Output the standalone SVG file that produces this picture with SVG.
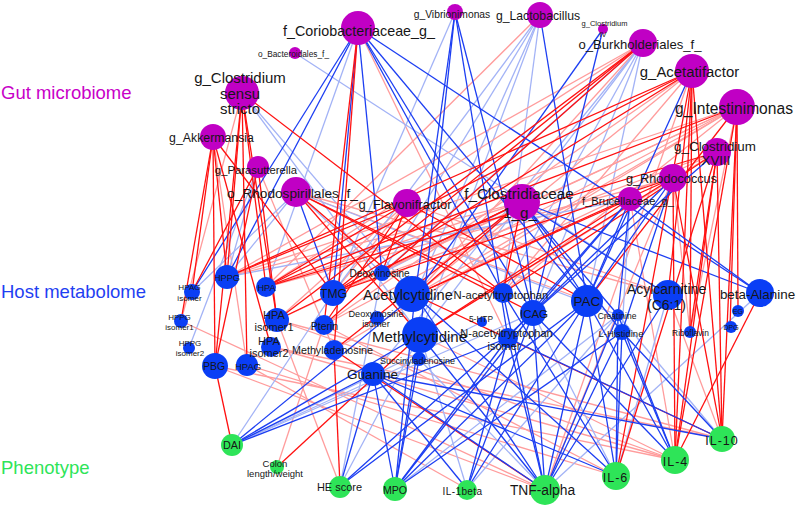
<svg xmlns="http://www.w3.org/2000/svg" width="797" height="507" viewBox="0 0 797 507">
<style>
line{stroke-width:1.3;fill:none}
.R{stroke:#ff1010}
.r{stroke:#ff9c9c}
.B{stroke:#1c3ef2}
.b{stroke:#a3b3f6}
.m{fill:#c000c4}
.h{fill:#0a3ef5}
.p{fill:#2ee458}
text{font-family:"Liberation Sans",Arial,sans-serif;fill:#161616;text-anchor:middle}
.cat{font-size:18.5px;text-anchor:start}
</style>
<rect width="797" height="507" fill="#fff"/>
<g id="connectors">
<line class="b" x1="358" y1="28" x2="266" y2="287"/>
<line class="r" x1="358" y1="28" x2="508" y2="338"/>
<line class="b" x1="295" y1="53" x2="668" y2="295"/>
<line class="b" x1="242" y1="93" x2="415" y2="295"/>
<line class="b" x1="242" y1="93" x2="420" y2="335"/>
<line class="r" x1="242" y1="93" x2="181" y2="321"/>
<line class="r" x1="213" y1="137" x2="247" y2="365"/>
<line class="b" x1="258" y1="167" x2="227" y2="277"/>
<line class="r" x1="258" y1="167" x2="334" y2="350"/>
<line class="b" x1="258" y1="167" x2="189" y2="348"/>
<line class="r" x1="296" y1="192" x2="587" y2="301"/>
<line class="b" x1="296" y1="192" x2="227" y2="277"/>
<line class="b" x1="296" y1="192" x2="618" y2="315"/>
<line class="r" x1="296" y1="192" x2="668" y2="295"/>
<line class="b" x1="296" y1="192" x2="382" y2="273"/>
<line class="b" x1="296" y1="192" x2="192" y2="292"/>
<line class="r" x1="407" y1="203" x2="277" y2="320"/>
<line class="r" x1="407" y1="203" x2="333" y2="293"/>
<line class="r" x1="407" y1="203" x2="668" y2="295"/>
<line class="r" x1="522" y1="202" x2="266" y2="287"/>
<line class="r" x1="522" y1="202" x2="227" y2="277"/>
<line class="b" x1="522" y1="202" x2="382" y2="273"/>
<line class="b" x1="455" y1="12" x2="333" y2="293"/>
<line class="b" x1="540" y1="15" x2="333" y2="293"/>
<line class="b" x1="540" y1="15" x2="382" y2="273"/>
<line class="b" x1="540" y1="15" x2="415" y2="295"/>
<line class="b" x1="540" y1="15" x2="420" y2="335"/>
<line class="r" x1="540" y1="15" x2="266" y2="287"/>
<line class="b" x1="540" y1="15" x2="503" y2="293"/>
<line class="r" x1="643" y1="43" x2="266" y2="287"/>
<line class="r" x1="643" y1="43" x2="415" y2="295"/>
<line class="b" x1="643" y1="43" x2="420" y2="335"/>
<line class="b" x1="643" y1="43" x2="382" y2="273"/>
<line class="b" x1="643" y1="43" x2="533" y2="313"/>
<line class="b" x1="643" y1="43" x2="503" y2="293"/>
<line class="b" x1="643" y1="43" x2="587" y2="301"/>
<line class="r" x1="643" y1="43" x2="227" y2="277"/>
<line class="b" x1="643" y1="43" x2="373" y2="374"/>
<line class="r" x1="692" y1="71" x2="324" y2="325"/>
<line class="r" x1="692" y1="71" x2="503" y2="293"/>
<line class="r" x1="692" y1="71" x2="415" y2="295"/>
<line class="r" x1="692" y1="71" x2="545" y2="490"/>
<line class="r" x1="737" y1="107" x2="227" y2="277"/>
<line class="r" x1="737" y1="107" x2="333" y2="293"/>
<line class="r" x1="737" y1="107" x2="415" y2="295"/>
<line class="r" x1="737" y1="107" x2="277" y2="320"/>
<line class="r" x1="737" y1="107" x2="324" y2="325"/>
<line class="r" x1="737" y1="107" x2="503" y2="293"/>
<line class="r" x1="737" y1="107" x2="334" y2="350"/>
<line class="r" x1="737" y1="107" x2="690" y2="332"/>
<line class="r" x1="717" y1="152" x2="415" y2="295"/>
<line class="r" x1="717" y1="152" x2="333" y2="293"/>
<line class="r" x1="717" y1="152" x2="420" y2="335"/>
<line class="r" x1="673" y1="178" x2="545" y2="490"/>
<line class="r" x1="673" y1="178" x2="266" y2="287"/>
<line class="r" x1="673" y1="178" x2="690" y2="332"/>
<line class="b" x1="630" y1="199" x2="622" y2="332"/>
<line class="r" x1="630" y1="199" x2="675" y2="460"/>
<line class="b" x1="630" y1="199" x2="227" y2="277"/>
<line class="r" x1="215" y1="366" x2="675" y2="460"/>
<line class="r" x1="215" y1="366" x2="545" y2="490"/>
<line class="r" x1="247" y1="365" x2="616" y2="476"/>
<line class="r" x1="247" y1="365" x2="467" y2="489"/>
<line class="r" x1="181" y1="321" x2="545" y2="490"/>
<line class="r" x1="271" y1="347" x2="722" y2="439"/>
<line class="r" x1="277" y1="320" x2="675" y2="460"/>
<line class="r" x1="324" y1="325" x2="616" y2="476"/>
<line class="r" x1="277" y1="467" x2="324" y2="325"/>
<line class="b" x1="420" y1="335" x2="467" y2="489"/>
<line class="b" x1="420" y1="335" x2="340" y2="486"/>
<line class="r" x1="420" y1="335" x2="675" y2="460"/>
<line class="b" x1="419" y1="359" x2="232" y2="445"/>
<line class="b" x1="419" y1="359" x2="545" y2="490"/>
<line class="r" x1="340" y1="486" x2="277" y2="320"/>
<line class="b" x1="340" y1="486" x2="382" y2="273"/>
<line class="b" x1="395" y1="489" x2="618" y2="315"/>
<line class="b" x1="467" y1="489" x2="618" y2="315"/>
<line class="b" x1="545" y1="490" x2="760" y2="293"/>
<line class="b" x1="616" y1="476" x2="533" y2="313"/>
<line class="b" x1="616" y1="476" x2="668" y2="295"/>
<line class="r" x1="675" y1="460" x2="271" y2="347"/>
<line class="b" x1="722" y1="439" x2="618" y2="315"/>
<line class="r" x1="722" y1="439" x2="277" y2="320"/>
<line class="r" x1="722" y1="439" x2="668" y2="295"/>
<line class="b" x1="232" y1="445" x2="533" y2="313"/>
<line class="b" x1="232" y1="445" x2="333" y2="293"/>
<line class="b" x1="232" y1="445" x2="482" y2="322"/>
<line class="B" x1="358" y1="28" x2="227" y2="277"/>
<line class="B" x1="358" y1="28" x2="333" y2="293"/>
<line class="B" x1="358" y1="28" x2="382" y2="273"/>
<line class="B" x1="358" y1="28" x2="503" y2="293"/>
<line class="B" x1="358" y1="28" x2="533" y2="313"/>
<line class="B" x1="358" y1="28" x2="587" y2="301"/>
<line class="R" x1="358" y1="28" x2="334" y2="350"/>
<line class="B" x1="358" y1="28" x2="760" y2="293"/>
<line class="B" x1="358" y1="28" x2="192" y2="292"/>
<line class="R" x1="358" y1="28" x2="324" y2="325"/>
<line class="R" x1="242" y1="93" x2="227" y2="277"/>
<line class="R" x1="242" y1="93" x2="266" y2="287"/>
<line class="R" x1="242" y1="93" x2="277" y2="320"/>
<line class="R" x1="242" y1="93" x2="247" y2="365"/>
<line class="R" x1="242" y1="93" x2="215" y2="366"/>
<line class="R" x1="242" y1="93" x2="503" y2="293"/>
<line class="R" x1="213" y1="137" x2="192" y2="292"/>
<line class="R" x1="213" y1="137" x2="181" y2="321"/>
<line class="R" x1="213" y1="137" x2="215" y2="366"/>
<line class="R" x1="213" y1="137" x2="227" y2="277"/>
<line class="R" x1="213" y1="137" x2="271" y2="347"/>
<line class="R" x1="213" y1="137" x2="333" y2="293"/>
<line class="R" x1="258" y1="167" x2="192" y2="292"/>
<line class="R" x1="258" y1="167" x2="215" y2="366"/>
<line class="R" x1="258" y1="167" x2="277" y2="320"/>
<line class="B" x1="296" y1="192" x2="333" y2="293"/>
<line class="R" x1="296" y1="192" x2="415" y2="295"/>
<line class="R" x1="296" y1="192" x2="503" y2="293"/>
<line class="R" x1="296" y1="192" x2="533" y2="313"/>
<line class="R" x1="296" y1="192" x2="420" y2="335"/>
<line class="R" x1="407" y1="203" x2="266" y2="287"/>
<line class="R" x1="407" y1="203" x2="227" y2="277"/>
<line class="R" x1="407" y1="203" x2="382" y2="273"/>
<line class="R" x1="407" y1="203" x2="587" y2="301"/>
<line class="R" x1="407" y1="203" x2="324" y2="325"/>
<line class="R" x1="522" y1="202" x2="503" y2="293"/>
<line class="R" x1="522" y1="202" x2="415" y2="295"/>
<line class="R" x1="522" y1="202" x2="333" y2="293"/>
<line class="B" x1="522" y1="202" x2="587" y2="301"/>
<line class="B" x1="522" y1="202" x2="533" y2="313"/>
<line class="B" x1="522" y1="202" x2="618" y2="315"/>
<line class="B" x1="522" y1="202" x2="622" y2="332"/>
<line class="B" x1="522" y1="202" x2="668" y2="295"/>
<line class="B" x1="522" y1="202" x2="760" y2="293"/>
<line class="R" x1="522" y1="202" x2="334" y2="350"/>
<line class="R" x1="522" y1="202" x2="277" y2="320"/>
<line class="B" x1="455" y1="12" x2="415" y2="295"/>
<line class="B" x1="455" y1="12" x2="420" y2="335"/>
<line class="B" x1="455" y1="12" x2="533" y2="313"/>
<line class="B" x1="455" y1="12" x2="508" y2="338"/>
<line class="B" x1="540" y1="15" x2="587" y2="301"/>
<line class="B" x1="603" y1="29" x2="533" y2="313"/>
<line class="B" x1="603" y1="29" x2="415" y2="295"/>
<line class="R" x1="643" y1="43" x2="324" y2="325"/>
<line class="R" x1="643" y1="43" x2="333" y2="293"/>
<line class="R" x1="643" y1="43" x2="277" y2="320"/>
<line class="R" x1="692" y1="71" x2="675" y2="460"/>
<line class="R" x1="692" y1="71" x2="722" y2="439"/>
<line class="R" x1="692" y1="71" x2="616" y2="476"/>
<line class="R" x1="692" y1="71" x2="266" y2="287"/>
<line class="R" x1="692" y1="71" x2="333" y2="293"/>
<line class="B" x1="692" y1="71" x2="587" y2="301"/>
<line class="R" x1="692" y1="71" x2="668" y2="295"/>
<line class="R" x1="692" y1="71" x2="690" y2="332"/>
<line class="R" x1="692" y1="71" x2="227" y2="277"/>
<line class="R" x1="737" y1="107" x2="722" y2="439"/>
<line class="R" x1="737" y1="107" x2="675" y2="460"/>
<line class="R" x1="737" y1="107" x2="730" y2="327"/>
<line class="R" x1="737" y1="107" x2="738" y2="311"/>
<line class="R" x1="737" y1="107" x2="587" y2="301"/>
<line class="R" x1="737" y1="107" x2="266" y2="287"/>
<line class="R" x1="717" y1="152" x2="722" y2="439"/>
<line class="R" x1="717" y1="152" x2="675" y2="460"/>
<line class="R" x1="717" y1="152" x2="616" y2="476"/>
<line class="R" x1="717" y1="152" x2="266" y2="287"/>
<line class="B" x1="717" y1="152" x2="533" y2="313"/>
<line class="R" x1="717" y1="152" x2="503" y2="293"/>
<line class="R" x1="717" y1="152" x2="690" y2="332"/>
<line class="R" x1="673" y1="178" x2="722" y2="439"/>
<line class="R" x1="673" y1="178" x2="675" y2="460"/>
<line class="B" x1="673" y1="178" x2="587" y2="301"/>
<line class="B" x1="673" y1="178" x2="533" y2="313"/>
<line class="R" x1="673" y1="178" x2="333" y2="293"/>
<line class="R" x1="673" y1="178" x2="415" y2="295"/>
<line class="R" x1="673" y1="178" x2="420" y2="335"/>
<line class="B" x1="673" y1="178" x2="622" y2="332"/>
<line class="B" x1="630" y1="199" x2="760" y2="293"/>
<line class="B" x1="630" y1="199" x2="587" y2="301"/>
<line class="B" x1="630" y1="199" x2="533" y2="313"/>
<line class="B" x1="630" y1="199" x2="508" y2="338"/>
<line class="R" x1="630" y1="199" x2="420" y2="335"/>
<line class="R" x1="630" y1="199" x2="415" y2="295"/>
<line class="B" x1="630" y1="199" x2="618" y2="315"/>
<line class="R" x1="215" y1="366" x2="232" y2="445"/>
<line class="R" x1="277" y1="467" x2="420" y2="335"/>
<line class="R" x1="334" y1="350" x2="340" y2="486"/>
<line class="R" x1="334" y1="350" x2="545" y2="490"/>
<line class="B" x1="373" y1="374" x2="232" y2="445"/>
<line class="B" x1="373" y1="374" x2="395" y2="489"/>
<line class="B" x1="373" y1="374" x2="467" y2="489"/>
<line class="B" x1="373" y1="374" x2="545" y2="490"/>
<line class="B" x1="373" y1="374" x2="616" y2="476"/>
<line class="B" x1="373" y1="374" x2="722" y2="439"/>
<line class="B" x1="373" y1="374" x2="340" y2="486"/>
<line class="B" x1="420" y1="335" x2="232" y2="445"/>
<line class="B" x1="420" y1="335" x2="395" y2="489"/>
<line class="B" x1="420" y1="335" x2="545" y2="490"/>
<line class="B" x1="419" y1="359" x2="395" y2="489"/>
<line class="B" x1="415" y1="295" x2="232" y2="445"/>
<line class="B" x1="415" y1="295" x2="395" y2="489"/>
<line class="B" x1="415" y1="295" x2="616" y2="476"/>
<line class="B" x1="415" y1="295" x2="545" y2="490"/>
<line class="R" x1="415" y1="295" x2="722" y2="439"/>
<line class="B" x1="340" y1="486" x2="533" y2="313"/>
<line class="B" x1="340" y1="486" x2="587" y2="301"/>
<line class="B" x1="395" y1="489" x2="533" y2="313"/>
<line class="B" x1="395" y1="489" x2="587" y2="301"/>
<line class="B" x1="395" y1="489" x2="508" y2="338"/>
<line class="B" x1="395" y1="489" x2="622" y2="332"/>
<line class="B" x1="467" y1="489" x2="533" y2="313"/>
<line class="B" x1="467" y1="489" x2="587" y2="301"/>
<line class="B" x1="467" y1="489" x2="508" y2="338"/>
<line class="B" x1="545" y1="490" x2="587" y2="301"/>
<line class="B" x1="545" y1="490" x2="533" y2="313"/>
<line class="B" x1="545" y1="490" x2="503" y2="293"/>
<line class="B" x1="545" y1="490" x2="618" y2="315"/>
<line class="B" x1="545" y1="490" x2="622" y2="332"/>
<line class="B" x1="545" y1="490" x2="668" y2="295"/>
<line class="B" x1="545" y1="490" x2="508" y2="338"/>
<line class="B" x1="616" y1="476" x2="622" y2="332"/>
<line class="B" x1="616" y1="476" x2="618" y2="315"/>
<line class="B" x1="616" y1="476" x2="587" y2="301"/>
<line class="B" x1="616" y1="476" x2="503" y2="293"/>
<line class="B" x1="675" y1="460" x2="622" y2="332"/>
<line class="B" x1="675" y1="460" x2="587" y2="301"/>
<line class="B" x1="675" y1="460" x2="618" y2="315"/>
<line class="R" x1="675" y1="460" x2="760" y2="293"/>
<line class="B" x1="675" y1="460" x2="533" y2="313"/>
<line class="B" x1="722" y1="439" x2="622" y2="332"/>
<line class="B" x1="722" y1="439" x2="508" y2="338"/>
<line class="B" x1="232" y1="445" x2="508" y2="338"/>
</g>
<text class="cat" x="1" y="99" style="fill:#c800c8">Gut microbiome</text>
<text class="cat" x="1" y="298" style="fill:#1f3ff2">Host metabolome</text>
<text class="cat" x="1" y="474" style="fill:#2ee458">Phenotype</text>
<g id="n-coriobacteriaceae"><circle class="m" cx="358" cy="28" r="17"/><text x="359" y="36" font-size="14.3">f_Coriobacteriaceae_g_</text></g>
<g id="n-bacteroidales"><circle class="m" cx="295" cy="53" r="6"/><text x="293.5" y="57" font-size="8.3">o_Bacteroidales_f_</text></g>
<g id="n-clostridium-ss"><circle class="m" cx="242" cy="93" r="17"/><text x="240" y="82.5" font-size="15">g_Clostridium</text><text x="240" y="98.5" font-size="15">sensu</text><text x="240" y="114" font-size="15">stricto</text></g>
<g id="n-akkermansia"><circle class="m" cx="213" cy="137" r="13"/><text x="211.5" y="142" font-size="12.3">g_Akkermansia</text></g>
<g id="n-parasutterella"><circle class="m" cx="258" cy="167" r="11"/><text x="256" y="174" font-size="11.3">g_Parasutterella</text></g>
<g id="n-rhodospirillales"><circle class="m" cx="296" cy="192" r="15"/><text x="292.5" y="198" font-size="13.7">o_Rhodospirillales_f_</text></g>
<g id="n-flavonifractor"><circle class="m" cx="407" cy="203" r="14"/><text x="405" y="209" font-size="13">g_Flavonifractor</text></g>
<g id="n-clostridiaceae1"><circle class="m" cx="522" cy="202" r="18"/><text x="519" y="199" font-size="15.3">f_Clostridiaceae</text><text x="520" y="218" font-size="15.3">1_g_</text></g>
<g id="n-vibrionimonas"><circle class="m" cx="455" cy="12" r="8"/><text x="452" y="17.5" font-size="10.3">g_Vibrionimonas</text></g>
<g id="n-lactobacillus"><circle class="m" cx="540" cy="15" r="13"/><text x="538" y="19.5" font-size="12.2">g_Lactobacillus</text></g>
<g id="n-clostridium-iv"><circle class="m" cx="603" cy="29" r="5"/><text x="604.5" y="26" font-size="7.5">g_Clostridium</text><text x="603" y="36.5" font-size="7.5">IV</text></g>
<g id="n-burkholderiales"><circle class="m" cx="643" cy="43" r="14"/><text x="640" y="49" font-size="13.1">o_Burkholderiales_f_</text></g>
<g id="n-acetatifactor"><circle class="m" cx="692" cy="71" r="17"/><text x="689.5" y="77" font-size="14.9">g_Acetatifactor</text></g>
<g id="n-intestinimonas"><circle class="m" cx="737" cy="107" r="18"/><text x="734" y="113.5" font-size="15.6">g_Intestinimonas</text></g>
<g id="n-clostridium-xviii"><circle class="m" cx="717" cy="152" r="14"/><text x="715" y="151" font-size="13.4">g_Clostridium</text><text x="716" y="165" font-size="13.4">XVIII</text></g>
<g id="n-rhodococcus"><circle class="m" cx="673" cy="178" r="14"/><text x="671.5" y="182.5" font-size="12.7">g_Rhodococcus</text></g>
<g id="n-brucellaceae"><circle class="m" cx="630" cy="199" r="12"/><text x="628" y="205" font-size="11.1">f_Brucellaceae_g_</text></g>
<g id="n-hpag-isomer"><circle class="h" cx="192" cy="292" r="8"/><text x="189.5" y="290" font-size="8.1">HPAG</text><text x="189.5" y="301" font-size="8.1">isomer</text></g>
<g id="n-hppg"><circle class="h" cx="227" cy="277" r="12"/><text x="227" y="280.5" font-size="9.2">HPPG</text></g>
<g id="n-hpa"><circle class="h" cx="266" cy="287" r="10"/><text x="266.5" y="290.5" font-size="9.2">HPA</text></g>
<g id="n-tmg"><circle class="h" cx="333" cy="293" r="13"/><text x="333.5" y="297.5" font-size="12.2">TMG</text></g>
<g id="n-deoxyinosine"><circle class="h" cx="382" cy="273" r="8"/><text x="379.5" y="276.5" font-size="10">Deoxyinosine</text></g>
<g id="n-acetylcytidine"><circle class="h" cx="412" cy="294" r="18"/><text x="408" y="300" font-size="14.7">Acetylcytidine</text></g>
<g id="n-n-acetyltryptophan"><circle class="h" cx="503" cy="293" r="10"/><text x="501" y="299" font-size="11.3">N-acetyltryptophan</text></g>
<g id="n-pac"><circle class="h" cx="587" cy="301" r="16"/><text x="587" y="306" font-size="13.5">PAC</text></g>
<g id="n-icag"><circle class="h" cx="533" cy="313" r="13"/><text x="534" y="317.5" font-size="11.5">ICAG</text></g>
<g id="n-acylcarnitine"><circle class="h" cx="668" cy="295" r="15"/><text x="666.5" y="294" font-size="14">Acylcarnitine</text><text x="666.5" y="310" font-size="14">(C6:1)</text></g>
<g id="n-beta-alanine"><circle class="h" cx="760" cy="293" r="14"/><text x="757.5" y="298.5" font-size="13.4">beta-Alanine</text></g>
<g id="n-eg"><circle class="h" cx="738" cy="311" r="6"/><text x="738" y="313.5" font-size="7">EG</text></g>
<g id="n-dpg"><circle class="h" cx="731" cy="327" r="6"/><text x="731" y="329.5" font-size="7">DPG</text></g>
<g id="n-riboflavin"><circle class="h" cx="690" cy="332" r="6"/><text x="690.5" y="336" font-size="8.4">Riboflavin</text></g>
<g id="n-creatinine"><circle class="h" cx="618" cy="315" r="6"/><text x="617" y="319" font-size="8.5">Creatinine</text></g>
<g id="n-l-histidine"><circle class="h" cx="622" cy="332" r="8"/><text x="621" y="336.5" font-size="9.5">L-Histidine</text></g>
<g id="n-hppg-isomer1"><circle class="h" cx="181" cy="321" r="7"/><text x="179.5" y="320" font-size="8">HPPG</text><text x="179.5" y="330" font-size="8">isomer1</text></g>
<g id="n-hppg-isomer2"><circle class="h" cx="189" cy="348" r="6"/><text x="190" y="346" font-size="8">HPPG</text><text x="190" y="356" font-size="8">isomer2</text></g>
<g id="n-pbg"><circle class="h" cx="215" cy="366" r="13"/><text x="214" y="370" font-size="10.5">PBG</text></g>
<g id="n-hpag"><circle class="h" cx="247" cy="365" r="11"/><text x="248" y="369.5" font-size="9.5">HPAG</text></g>
<g id="n-hpa-isomer1"><circle class="h" cx="277" cy="320" r="12"/><text x="274" y="319" font-size="11">HPA</text><text x="274" y="331" font-size="11">isomer1</text></g>
<g id="n-hpa-isomer2"><circle class="h" cx="271" cy="347" r="10"/><text x="269" y="345" font-size="11">HPA</text><text x="269" y="357" font-size="11">isomer2</text></g>
<g id="n-pterin"><circle class="h" cx="324" cy="325" r="10"/><text x="324.5" y="330" font-size="10.5">Pterin</text></g>
<g id="n-methyladenosine"><circle class="h" cx="334" cy="350" r="10"/><text x="332.5" y="354" font-size="10.7">Methyladenosine</text></g>
<g id="n-deoxyinosine-isomer"><circle class="h" cx="377" cy="318" r="7"/><text x="376" y="317" font-size="9.2">Deoxyinosine</text><text x="376" y="327" font-size="9.2">isomer</text></g>
<g id="n-methylcytidine"><circle class="h" cx="420" cy="335" r="18"/><text x="419.5" y="342" font-size="15">Methylcytidine</text></g>
<g id="n-5-htp"><circle class="h" cx="482" cy="322" r="5"/><text x="481" y="322" font-size="8.3">5-HTP</text></g>
<g id="n-n-acetyltryptophan-isomer"><circle class="h" cx="508" cy="338" r="10"/><text x="506.5" y="337" font-size="11">N-acetyltryptophan</text><text x="504" y="350" font-size="11">isomer</text></g>
<g id="n-succinyladenosine"><circle class="h" cx="419" cy="359" r="7"/><text x="417.5" y="364" font-size="9">Succinyladenosine</text></g>
<g id="n-guanine"><circle class="h" cx="373" cy="374" r="12"/><text x="372.5" y="379" font-size="13.5">Guanine</text></g>
<g id="n-dai"><circle class="p" cx="232" cy="445" r="11"/><text x="232" y="449" font-size="10.8">DAI</text></g>
<g id="n-colon"><circle class="p" cx="277" cy="467" r="7"/><text x="275" y="466.5" font-size="9.5">Colon</text><text x="275" y="476.5" font-size="9.5">length/weight</text></g>
<g id="n-he-score"><circle class="p" cx="340" cy="487" r="11"/><text x="339.5" y="491" font-size="11">HE score</text></g>
<g id="n-mpo"><circle class="p" cx="395" cy="489" r="12"/><text x="395" y="494" font-size="10.6">MPO</text></g>
<g id="n-il-1beta"><circle class="p" cx="467" cy="490" r="10"/><text x="462.5" y="494.5" font-size="10" letter-spacing="0.4">IL-1beta</text></g>
<g id="n-tnf-alpha"><circle class="p" cx="545" cy="490" r="15"/><text x="542.5" y="494.5" font-size="13.8">TNF-alpha</text></g>
<g id="n-il-6"><circle class="p" cx="616" cy="476" r="14"/><text x="615.5" y="481.5" font-size="12.5" letter-spacing="1">IL-6</text></g>
<g id="n-il-4"><circle class="p" cx="675" cy="460" r="14"/><text x="675.5" y="465.5" font-size="12.5" letter-spacing="1">IL-4</text></g>
<g id="n-il-10"><circle class="p" cx="722" cy="439" r="13"/><text x="722" y="444.5" font-size="12.5" letter-spacing="1">IL-10</text></g>
</svg>
